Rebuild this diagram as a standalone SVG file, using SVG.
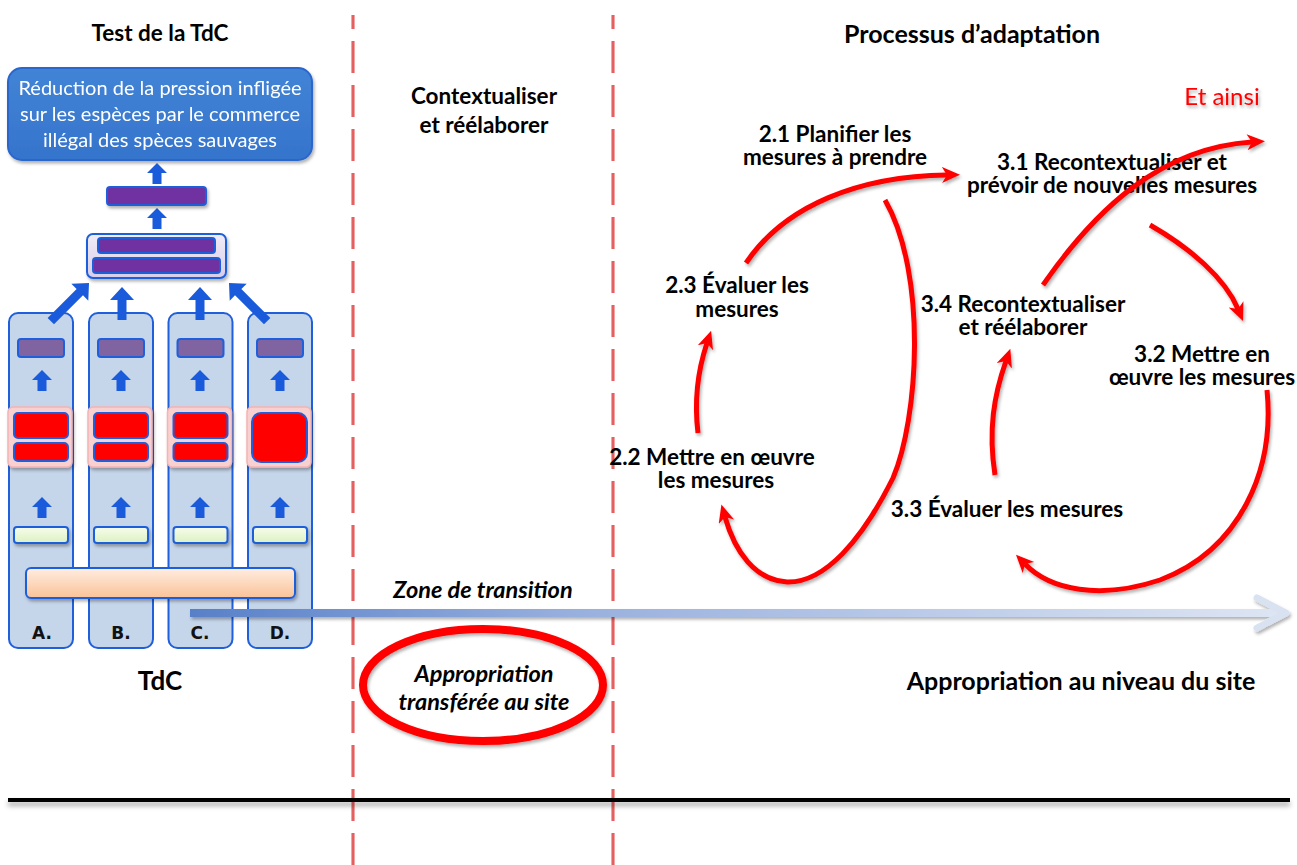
<svg xmlns="http://www.w3.org/2000/svg" width="1297" height="865" viewBox="0 0 1297 865">
<style>
  .lbl { font-family: Lato, "Liberation Sans", sans-serif; font-weight: 700; font-size: 22.5px; fill: #000; text-anchor: middle; }
  .head { font-size: 25px; }
  .ital { font-family: Lato, "Liberation Sans", sans-serif; font-weight: 700; font-style: italic; font-size: 23.5px; fill: #000; text-anchor: middle; }
  .white { font-family: Lato, "Liberation Sans", sans-serif; font-size: 20px; fill: #fff; text-anchor: middle; }
  .col { fill: #C5D5EA; stroke: #1F5FDB; stroke-width: 2; }
  .pur { fill: #7030A0; stroke: #1F5FDB; stroke-width: 2; }
  .pur2 { fill: #8064A2; stroke: #1F5FDB; stroke-width: 2; }
  .red { fill: #FF0000; stroke: #1F5FDB; stroke-width: 2; }
  .pinkbox { fill: #F9D0D0; stroke: #F3B4B4; stroke-width: 1.5; }
  .grn { fill: url(#gGreen); stroke: #1F5FDB; stroke-width: 2; }
  .barrow { fill: #1A5BDB; }
  .colLetter { font-family: "DejaVu Sans", sans-serif; font-weight: 900; font-size: 17px; fill: #111; text-anchor: middle; }
  .cyc { fill: none; stroke: #FF0000; stroke-width: 5; marker-end: url(#rh); }
  .dashPink { stroke: #F2A4A4; stroke-width: 4; stroke-dasharray: 32 12; stroke-dashoffset: 18; }
  .dashRed { stroke: #D93535; stroke-width: 1.2; stroke-dasharray: 32 12; stroke-dashoffset: 18; }
</style>
<defs>
  <filter id="sh" x="-30%" y="-30%" width="160%" height="170%">
    <feDropShadow dx="1.5" dy="2.5" stdDeviation="1.6" flood-color="#000" flood-opacity="0.3"/>
  </filter>
  <filter id="shLine" filterUnits="userSpaceOnUse" x="0" y="790" width="1297" height="30">
    <feDropShadow dx="0" dy="4" stdDeviation="2.5" flood-color="#000" flood-opacity="0.35"/>
  </filter>
  <linearGradient id="gGreen" x1="0" y1="0" x2="0" y2="1">
    <stop offset="0" stop-color="#F6FCEC"/>
    <stop offset="1" stop-color="#DDF1C2"/>
  </linearGradient>
  <linearGradient id="gOrange" x1="0" y1="0" x2="0" y2="1">
    <stop offset="0" stop-color="#FFEDE1"/>
    <stop offset="1" stop-color="#FAC398"/>
  </linearGradient>
  <linearGradient id="gLav" x1="0" y1="0" x2="0" y2="1">
    <stop offset="0" stop-color="#F1ECF7"/>
    <stop offset="1" stop-color="#D9CDE8"/>
  </linearGradient>
  <linearGradient id="gBlueBox" x1="0" y1="0" x2="0" y2="1">
    <stop offset="0" stop-color="#4284D6"/>
    <stop offset="1" stop-color="#3574CC"/>
  </linearGradient>
  <linearGradient id="gTimeline" gradientUnits="userSpaceOnUse" x1="190" y1="0" x2="1290" y2="0">
    <stop offset="0" stop-color="#5880C8"/>
    <stop offset="0.35" stop-color="#98B0DE"/>
    <stop offset="1" stop-color="#DEE6F3"/>
  </linearGradient>
  <marker id="rh" markerUnits="userSpaceOnUse" markerWidth="20" markerHeight="18" refX="5" refY="8" orient="auto">
    <path d="M0,0 L18,8 L0,16 L5,8 Z" fill="#FF0000"/>
  </marker>
  <!-- block arrow pointing up, tip at origin -->
  <path id="upA" d="M0,0 L10,10 L4.5,10 L4.5,21 L-4.5,21 L-4.5,10 L-10,10 Z"/>
</defs>

<rect width="1297" height="865" fill="#fff"/>

<!-- column dividers -->
<g id="dividers">
  <line x1="353" y1="15" x2="353" y2="865" class="dashPink"/>
  <line x1="353" y1="15" x2="353" y2="865" class="dashRed"/>
  <line x1="613" y1="15" x2="613" y2="865" class="dashPink"/>
  <line x1="613" y1="15" x2="613" y2="865" class="dashRed"/>
</g>

<!-- baseline rule -->
<rect x="8" y="798" width="1282" height="4" fill="#000" filter="url(#shLine)"/>

<!-- headings -->
<g id="headings">
  <text class="lbl" x="160" y="41">Test de la TdC</text>
  <text class="lbl head" x="972" y="43">Processus d’adaptation</text>
  <text class="lbl" x="160" y="690" style="font-size:26px">TdC</text>
  <text class="lbl head" x="1081" y="690">Appropriation au niveau du site</text>
</g>

<!-- theory of change stack -->
<g id="goal" filter="url(#sh)">
  <rect x="8" y="68" width="304" height="92" rx="14" fill="url(#gBlueBox)" stroke="#2A66CC" stroke-width="2"/>
  <text class="white" x="160" y="95">Réduction de la pression infligée</text>
  <text class="white" x="160" y="121">sur les espèces par le commerce</text>
  <text class="white" x="160" y="147">illégal des spèces sauvages</text>
</g>
<g id="arrowsTop" class="barrow">
  <use href="#upA" x="157" y="163"/>
  <use href="#upA" x="157" y="208"/>
</g>
<g id="outcome" filter="url(#sh)">
  <rect x="107" y="187" width="99" height="18" rx="3" class="pur"/>
</g>
<g id="intermediate" filter="url(#sh)">
  <rect x="87" y="234" width="139" height="44" rx="6" fill="url(#gLav)" stroke="#1F5FDB" stroke-width="2"/>
  <rect x="98" y="238" width="117" height="15" rx="3" class="pur"/>
  <rect x="93" y="258" width="127" height="15" rx="3" class="pur"/>
</g>

<!-- pathways A-D -->
<g id="colA">
  <rect x="9" y="313" width="64" height="335" rx="9" class="col"/>
  <rect x="18" y="339" width="46" height="18" rx="3" class="pur2"/>
  <rect x="8" y="407" width="64" height="60" rx="5" class="pinkbox" filter="url(#sh)"/>
  <rect x="14" y="413" width="54" height="25" rx="4" class="red"/>
  <rect x="14" y="443" width="54" height="18" rx="4" class="red"/>
  <rect x="14" y="527" width="54" height="16" rx="3" class="grn" filter="url(#sh)"/>
  <text class="colLetter" x="42" y="639">A.</text>
</g>
<g id="colB">
  <rect x="89" y="313" width="64" height="335" rx="9" class="col"/>
  <rect x="98" y="339" width="46" height="18" rx="3" class="pur2"/>
  <rect x="88" y="407" width="64" height="60" rx="5" class="pinkbox" filter="url(#sh)"/>
  <rect x="94" y="413" width="54" height="25" rx="4" class="red"/>
  <rect x="94" y="443" width="54" height="18" rx="4" class="red"/>
  <rect x="94" y="527" width="54" height="16" rx="3" class="grn" filter="url(#sh)"/>
  <text class="colLetter" x="121" y="639">B.</text>
</g>
<g id="colC">
  <rect x="168.5" y="313" width="64" height="335" rx="9" class="col"/>
  <rect x="177.5" y="339" width="46" height="18" rx="3" class="pur2"/>
  <rect x="167.5" y="407" width="64" height="60" rx="5" class="pinkbox" filter="url(#sh)"/>
  <rect x="173.5" y="413" width="54" height="25" rx="4" class="red"/>
  <rect x="173.5" y="443" width="54" height="18" rx="4" class="red"/>
  <rect x="173.5" y="527" width="54" height="16" rx="3" class="grn" filter="url(#sh)"/>
  <text class="colLetter" x="200" y="639">C.</text>
</g>
<g id="colD">
  <rect x="248" y="313" width="64" height="335" rx="9" class="col"/>
  <rect x="257" y="339" width="46" height="18" rx="3" class="pur2"/>
  <rect x="247" y="407" width="64" height="60" rx="5" class="pinkbox" filter="url(#sh)"/>
  <rect x="252" y="413" width="55" height="49" rx="9" class="red"/>
  <rect x="253" y="527" width="54" height="16" rx="3" class="grn" filter="url(#sh)"/>
  <text class="colLetter" x="280" y="639">D.</text>
</g>
<g id="arrowsColumns" class="barrow">
  <use href="#upA" x="42" y="370"/>
  <use href="#upA" x="121" y="370"/>
  <use href="#upA" x="200" y="370"/>
  <use href="#upA" x="280" y="370"/>
  <use href="#upA" x="42" y="497"/>
  <use href="#upA" x="121" y="497"/>
  <use href="#upA" x="200" y="497"/>
  <use href="#upA" x="280" y="497"/>
  <!-- links from the pathways to the intermediate block -->
  <path d="M0,0 L12,13 L4.5,13 L4.5,33 L-4.5,33 L-4.5,13 L-12,13 Z" transform="translate(122,287)"/>
  <path d="M0,0 L12,13 L4.5,13 L4.5,33 L-4.5,33 L-4.5,13 L-12,13 Z" transform="translate(200,287)"/>
  <path d="M0,0 L12,13 L4.5,13 L4.5,54 L-4.5,54 L-4.5,13 L-12,13 Z" transform="translate(89,283) rotate(45)"/>
  <path d="M0,0 L12,13 L4.5,13 L4.5,54 L-4.5,54 L-4.5,13 L-12,13 Z" transform="translate(229,283) rotate(-45)"/>
</g>
<g id="assumptions" filter="url(#sh)">
  <rect x="26" y="568" width="269" height="30" rx="5" fill="url(#gOrange)" stroke="#1F5FDB" stroke-width="2"/>
</g>

<!-- timeline arrow -->
<g id="timeline" filter="url(#sh)">
  <rect x="190" y="609" width="1092" height="8" fill="url(#gTimeline)"/>
  <polyline points="1257,598 1286,613 1257,628" fill="none" stroke="#D9E2F1" stroke-width="7" stroke-linecap="round" stroke-linejoin="round"/>
</g>

<!-- middle band -->
<g id="contextualise">
  <text class="lbl" x="484" y="104">Contextualiser</text>
  <text class="lbl" x="484" y="133">et réélaborer</text>
</g>
<g id="transitionZone">
  <text class="ital" x="483" y="598">Zone de transition</text>
</g>
<g id="transferredOwnership">
  <ellipse cx="483" cy="685" rx="120" ry="56" fill="none" stroke="#FF0000" stroke-width="8" filter="url(#sh)"/>
  <text class="ital" x="484" y="682">Appropriation</text>
  <text class="ital" x="484" y="710">transférée au site</text>
</g>

<!-- adaptation cycle steps -->
<g id="step21">
  <text class="lbl" x="835" y="142">2.1 Planifier les</text>
  <text class="lbl" x="835" y="165">mesures à prendre</text>
</g>
<g id="step22">
  <text class="lbl" x="712" y="465">2.2 Mettre en œuvre</text>
  <text class="lbl" x="716" y="488">les mesures</text>
</g>
<g id="step23">
  <text class="lbl" x="737" y="293">2.3 Évaluer les</text>
  <text class="lbl" x="737" y="317">mesures</text>
</g>
<g id="step31">
  <text class="lbl" x="1112" y="170">3.1 Recontextualiser et</text>
  <text class="lbl" x="1112" y="193">prévoir de nouvelles mesures</text>
</g>
<g id="step32">
  <text class="lbl" x="1202" y="362">3.2 Mettre en</text>
  <text class="lbl" x="1202" y="385">œuvre les mesures</text>
</g>
<g id="step33">
  <text class="lbl" x="1007" y="517">3.3 Évaluer les mesures</text>
</g>
<g id="step34">
  <text class="lbl" x="1023" y="312">3.4 Recontextualiser</text>
  <text class="lbl" x="1023" y="335">et réélaborer</text>
</g>
<g id="andSoOn">
  <text x="1222" y="105" font-family="Lato, 'Liberation Sans', sans-serif" font-size="24" fill="#FF0000" text-anchor="middle" filter="url(#sh)">Et ainsi</text>
</g>

<!-- cycle connectors -->
<g id="connectors" filter="url(#sh)">
  <path class="cyc" d="M746,263 C785,205 860,176 947,175"/>
  <path class="cyc" d="M885,200 C928,275 918,420 893,478 C862,540 825,583 787,582 C755,580 735,552 725,517"/>
  <path class="cyc" d="M698,433 C694,400 698,370 707,343"/>
  <path class="cyc" d="M1150,225 C1190,248 1225,278 1238,309"/>
  <path class="cyc" d="M1267,390 C1275,470 1240,550 1160,580 C1100,600 1050,590 1025,564"/>
  <path class="cyc" d="M995,475 C988,430 994,395 1006,361"/>
  <path class="cyc" d="M1043,285 C1095,210 1160,148 1252,142"/>
</g>
</svg>
